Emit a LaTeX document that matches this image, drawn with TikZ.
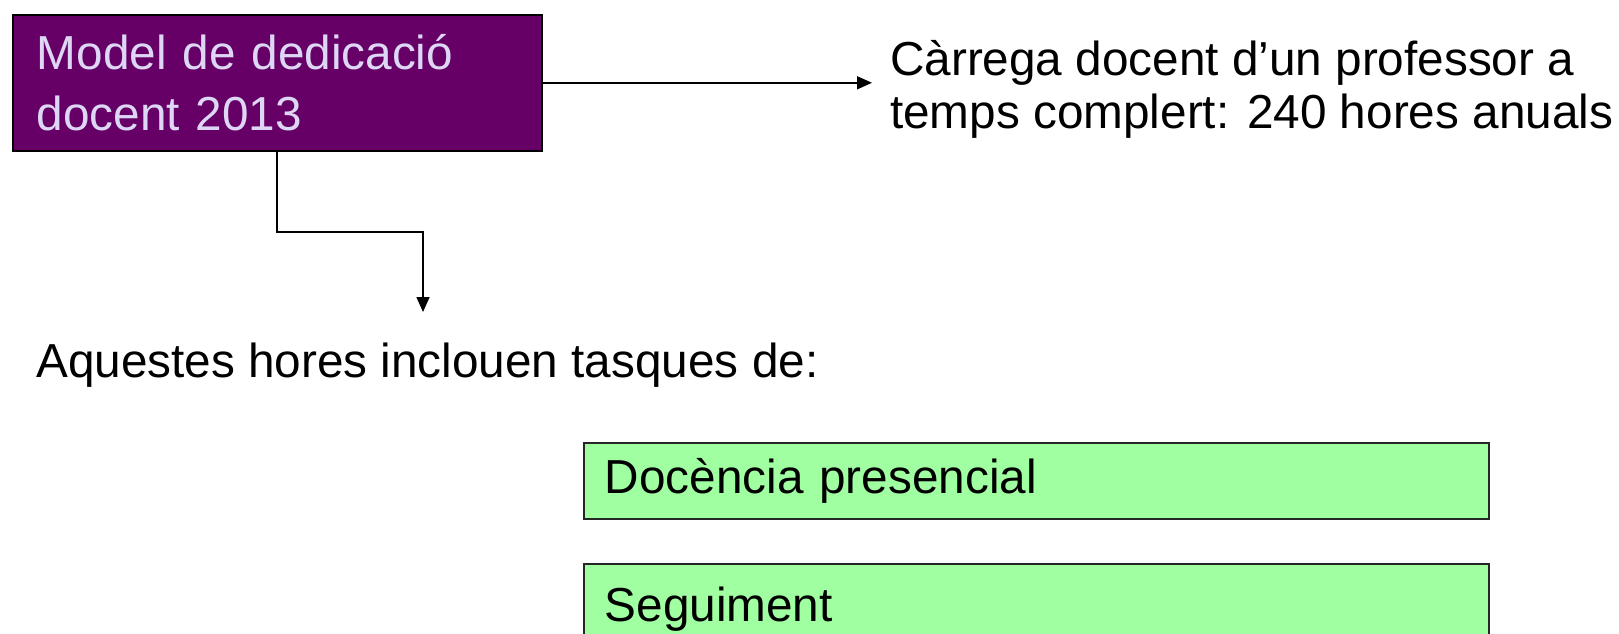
\documentclass[tikz,border=0pt]{standalone}
\usepackage{fontspec}
\setmainfont{Liberation Sans}
\usetikzlibrary{arrows.meta}
\definecolor{plum}{RGB}{102,0,102}
\definecolor{lav}{RGB}{221,214,245}
\definecolor{lgreen}{RGB}{160,255,160}
\begin{document}
\begin{tikzpicture}[x=1pt,y=-1pt,
  font=\fontsize{47.7}{53.2}\selectfont,
  conn/.style={draw=black, line width=1.6pt, -{Triangle[length=15pt,width=13pt]}},
  purplebox/.style={draw=black, line width=1.6pt, fill=plum, text=lav, anchor=north west,
    minimum width=529pt, minimum height=136pt, text width=481pt, inner xsep=24pt, inner ysep=0pt, align=left},
  greenbox/.style={draw=black!85, line width=1.5pt, fill=lgreen, anchor=north west,
    minimum width=905pt, minimum height=76pt, text width=863pt, inner xsep=21pt, inner ysep=0pt, align=left},
  plaintext/.style={inner sep=0pt, align=left},
]
\useasboundingbox (0,0) rectangle (1619,634);
\node[purplebox] (model) at (12,14) {\vspace*{8pt}Model de dedicació\\docent 2013};
\node[plaintext, anchor=north west] (carrega) at (890,40) {Càrrega docent d’un professor a\\temps complert: 240 hores anuals};
\node[plaintext, anchor=base west] (aquestes) at (36,377) {Aquestes hores inclouen tasques de:};
\node[greenbox] (docencia) at (583,442) {Docència presencial};
\node[greenbox, minimum height=90pt] (seguiment) at (583,563) {Seguiment};
\coordinate (tip) at (423,312);
\coordinate (tip2) at (872,0);
\draw[conn] (model.east) -- (model.east -| tip2);
\draw[conn] (model.south -| 277,0) |- (tip |- 0,232) -- (tip);
\end{tikzpicture}
\end{document}
